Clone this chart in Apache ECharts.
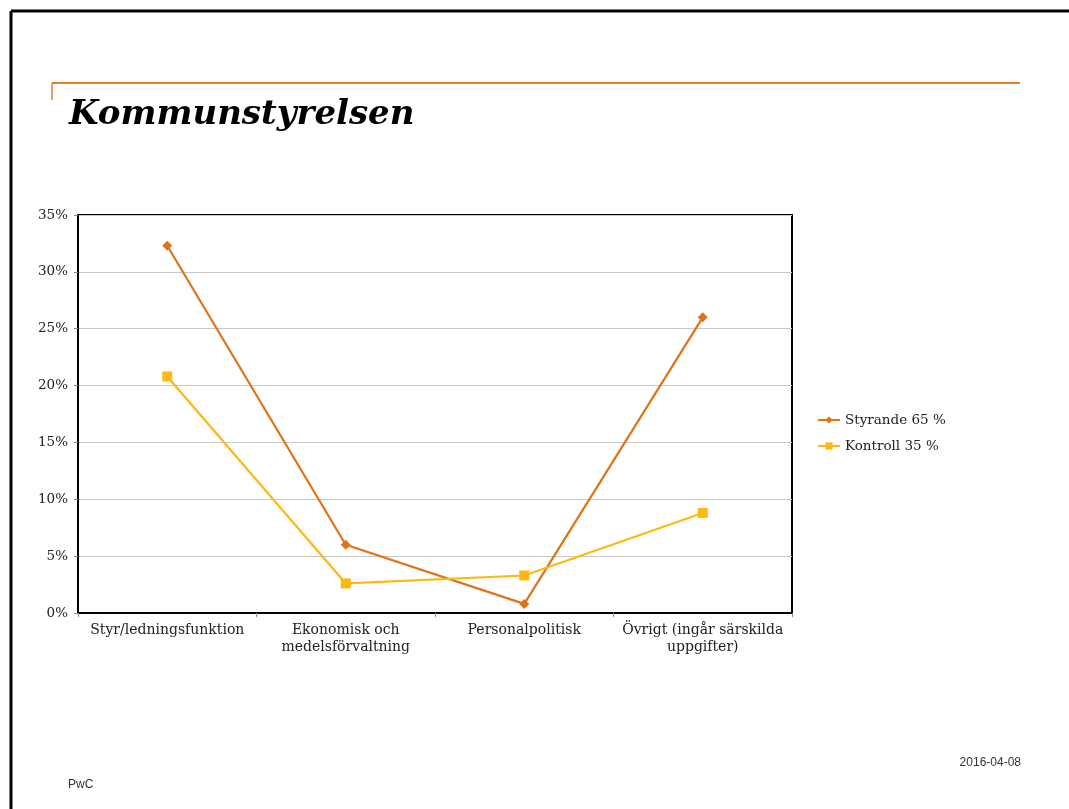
<!DOCTYPE html>
<html>
<head>
<meta charset="utf-8">
<script src="https://cdn.jsdelivr.net/npm/echarts@6/dist/echarts.min.js"></script>
<style>
  html, body { margin: 0; padding: 0; background: #fff; }
  #chart { width: 1069px; height: 809px; }
</style>
</head>
<body>
<div id="chart"></div>
<script>
  // kategorier och värden (andel i procent)
  var categories = ['Styr/ledningsfunktion', 'Ekonomisk och\nmedelsförvaltning', 'Personalpolitisk', 'Övrigt (ingår särskilda\nuppgifter)'];
  var styrande = [32.3, 6.0, 0.8, 26.0];
  var kontroll = [20.8, 2.6, 3.3, 8.8];
  var seriesNames = ['Styrande 65 %', 'Kontroll 35 %'];

  var serif = '"DejaVu Serif", "Liberation Serif", serif';
  var chart = echarts.init(document.getElementById('chart'));

  var option = {
    backgroundColor: '#fff',
    animation: false,
    graphic: [
      // ram runt bilden
      { type: 'line', shape: { x1: 11, y1: 11, x2: 1069, y2: 11 }, style: { stroke: '#000', lineWidth: 3 } },
      { type: 'line', shape: { x1: 11, y1: 11, x2: 11, y2: 809 }, style: { stroke: '#000', lineWidth: 3 } },
      // orange linje
      { type: 'line', shape: { x1: 52, y1: 83, x2: 1020, y2: 83 }, style: { stroke: '#E0822E', lineWidth: 2 } },
      { type: 'line', shape: { x1: 52, y1: 83, x2: 52, y2: 100 }, style: { stroke: '#E0822E', lineWidth: 1.5 } },
      {
        type: 'text', left: 69, top: 98,
        style: { text: 'Kommunstyrelsen', font: 'italic bold 34px ' + serif, fill: '#000' }
      },
      {
        type: 'text', left: 68, top: 779,
        style: { text: 'PwC', font: '12px "Liberation Sans", Arial, sans-serif', fill: '#333' }
      },
      {
        type: 'text', right: 48, top: 757,
        style: { text: '2016-04-08', font: '12px "Liberation Sans", Arial, sans-serif', fill: '#333' }
      }
    ],
    grid: {
      left: 78, top: 215, width: 714, height: 398,
      show: true, borderColor: '#000', borderWidth: 2, containLabel: false
    },
    legend: {
      orient: 'vertical',
      left: 812, top: 408,
      itemWidth: 22, itemHeight: 9, itemGap: 12,
      textStyle: { fontFamily: serif, fontSize: 13.5, color: '#222' },
      data: seriesNames
    },
    xAxis: {
      type: 'category',
      data: categories,
      boundaryGap: true,
      axisLine: { lineStyle: { color: '#000', width: 2 } },
      axisTick: { show: true, length: 4, lineStyle: { color: '#888' } },
      axisLabel: { fontFamily: serif, fontSize: 14, color: '#222', margin: 9, lineHeight: 17, interval: 0 }
    },
    yAxis: {
      type: 'value',
      min: 0, max: 35, interval: 5,
      axisLine: { show: true, lineStyle: { color: '#000', width: 2 } },
      axisTick: { show: true, length: 4, lineStyle: { color: '#888' } },
      splitLine: { lineStyle: { color: '#c8c8c8', width: 1 } },
      axisLabel: { formatter: '{value}%', fontFamily: serif, fontSize: 13.5, color: '#222', margin: 10 }
    },
    series: [
      {
        name: seriesNames[0],
        type: 'line',
        data: styrande,
        color: '#DD7417',
        symbol: 'diamond',
        symbolSize: 10,
        lineStyle: { width: 2.2 }
      },
      {
        name: seriesNames[1],
        type: 'line',
        data: kontroll,
        color: '#FDB813',
        symbol: 'rect',
        symbolSize: 10,
        lineStyle: { width: 2.2 }
      }
    ]
  };

  chart.setOption(option);
</script>
</body>
</html>
